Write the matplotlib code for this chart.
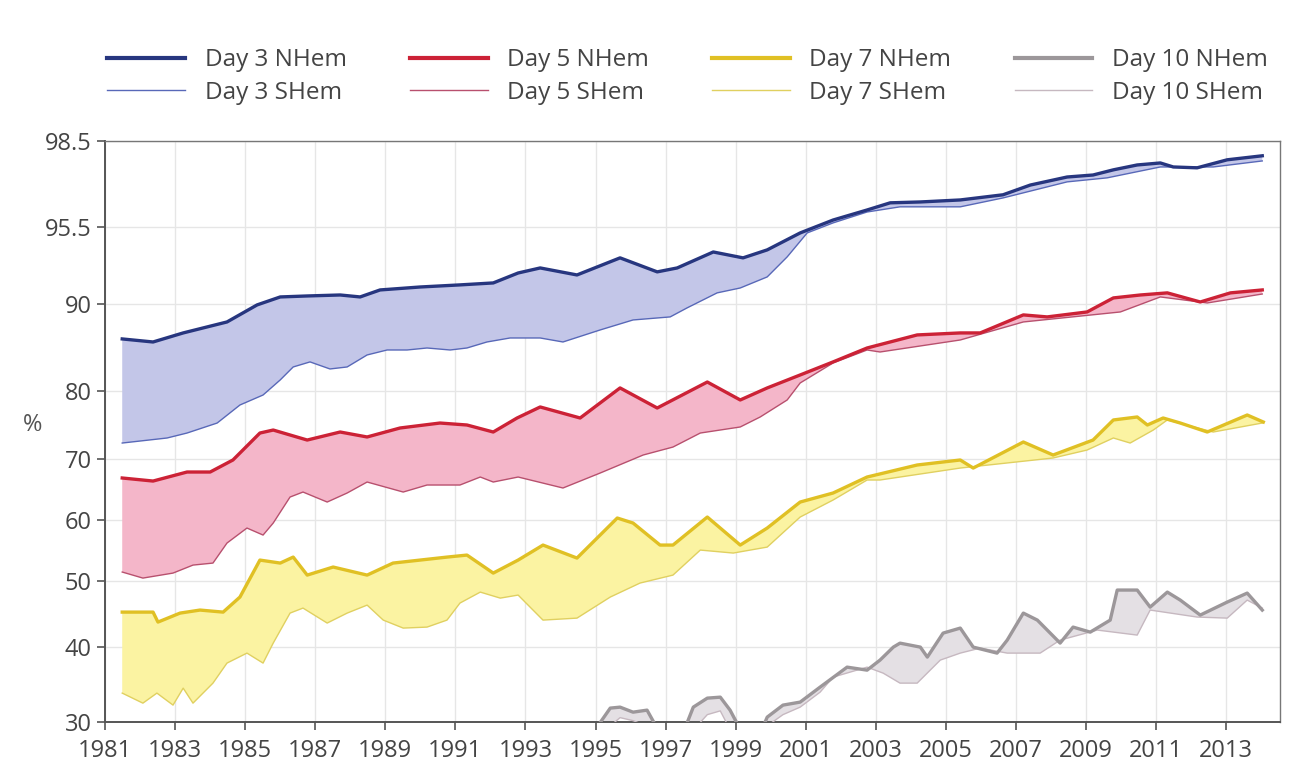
import numpy as np
import matplotlib
matplotlib.use("Agg")
import matplotlib.pyplot as plt
from matplotlib.lines import Line2D

plt.rcParams['font.family'] = ['Open Sans', 'DejaVu Sans']

# ---- data (year, anomaly correlation %) ----
d3n_x = [1981.49, 1982.37, 1983.23, 1984.48, 1985.34, 1986.0, 1986.77, 1987.71, 1988.28, 1988.85,
         1989.99, 1991.13, 1992.08, 1992.79, 1993.42, 1994.47, 1995.7, 1996.76, 1997.33, 1998.36,
         1999.21, 1999.9, 2000.84, 2001.78, 2002.75, 2003.41, 2004.27, 2005.41, 2006.63, 2007.41,
         2008.46, 2009.2, 2009.78, 2010.46, 2011.12, 2011.49, 2012.17, 2013.03, 2014.03]
d3n_y = [85.98, 85.63, 86.67, 87.93, 89.89, 90.5, 90.57, 90.64, 90.5, 91.0,
         91.21, 91.36, 91.5, 92.21, 92.57, 92.07, 93.29, 92.29, 92.57, 93.71,
         93.29, 93.86, 95.07, 95.74, 96.09, 96.34, 96.37, 96.44, 96.62, 96.96,
         97.24, 97.31, 97.49, 97.66, 97.73, 97.59, 97.56, 97.84, 97.98]

d3s_x = [1981.49, 1982.77, 1983.34, 1984.2, 1984.85, 1985.51, 1986.0, 1986.37, 1986.85, 1987.42,
         1987.91, 1988.48, 1989.05, 1989.62, 1990.19, 1990.85, 1991.33, 1991.9, 1992.56, 1993.42,
         1994.07, 1995.13, 1996.07, 1997.13, 1997.61, 1998.47, 1999.13, 1999.9, 2000.47, 2001.04,
         2001.78, 2002.75, 2003.69, 2005.41, 2006.63, 2008.46, 2009.6, 2011.12, 2012.63, 2014.03]
d3s_y = [72.35, 73.09, 73.82, 75.29, 77.94, 79.41, 81.27, 82.76, 83.34, 82.53,
         82.76, 84.14, 84.71, 84.71, 84.94, 84.71, 84.94, 85.63, 86.09, 86.09,
         85.63, 87.01, 88.16, 88.51, 89.54, 90.79, 91.14, 91.93, 93.36, 95.07,
         95.64, 96.02, 96.2, 96.2, 96.51, 97.07, 97.21, 97.59, 97.59, 97.8]

d5n_x = [1981.49, 1982.37, 1983.34, 1984.0, 1984.65, 1985.42, 1985.8, 1986.77, 1987.71, 1988.48,
         1989.42, 1990.56, 1991.33, 1992.08, 1992.76, 1993.42, 1994.56, 1995.7, 1996.76, 1998.19,
         1999.13, 1999.9, 2000.84, 2001.78, 2002.75, 2004.18, 2005.41, 2005.98, 2007.21, 2007.89,
         2009.03, 2009.78, 2010.55, 2011.32, 2012.26, 2013.12, 2014.03]
d5n_y = [66.89, 66.39, 67.87, 67.87, 69.84, 73.82, 74.26, 72.79, 73.97, 73.24,
         74.56, 75.29, 75.0, 73.97, 76.03, 77.65, 76.03, 80.35, 77.5, 81.03,
         78.68, 80.35, 81.84, 83.34, 84.94, 86.44, 86.67, 86.67, 88.74, 88.51,
         89.08, 90.43, 90.64, 90.79, 90.14, 90.79, 91.0]

d5s_x = [1981.49, 1982.08, 1982.94, 1983.51, 1984.08, 1984.48, 1985.05, 1985.51, 1985.8, 1986.28,
         1986.65, 1987.34, 1987.91, 1988.48, 1989.51, 1990.19, 1991.13, 1991.71, 1992.08, 1992.79,
         1994.07, 1995.13, 1996.36, 1997.21, 1997.99, 1999.13, 1999.7, 2000.47, 2000.84, 2001.78,
         2002.75, 2003.12, 2005.41, 2007.21, 2009.98, 2011.12, 2012.46, 2014.03]
d5s_y = [51.48, 50.49, 51.31, 52.62, 52.95, 56.23, 58.69, 57.54, 59.51, 63.77,
         64.59, 62.95, 64.43, 66.23, 64.59, 65.74, 65.74, 67.05, 66.23, 67.05,
         65.25, 67.7, 70.59, 71.76, 73.82, 74.71, 76.18, 78.68, 80.92, 83.22,
         84.71, 84.48, 85.86, 87.93, 89.08, 90.5, 90.07, 90.71]

d7n_x = [1981.49, 1982.37, 1982.51, 1983.14, 1983.71, 1984.37, 1984.85, 1985.42, 1986.0, 1986.37,
         1986.77, 1987.51, 1988.48, 1989.22, 1989.99, 1990.76, 1991.33, 1992.08, 1992.79, 1993.5,
         1994.47, 1995.62, 1996.07, 1996.84, 1997.21, 1998.19, 1999.13, 1999.9, 2000.84, 2001.78,
         2002.75, 2004.18, 2005.41, 2005.78, 2007.21, 2008.06, 2009.2, 2009.78, 2010.46, 2010.75,
         2011.2, 2011.69, 2012.46, 2013.6, 2014.06]
d7n_y = [45.3, 45.3, 43.79, 45.15, 45.61, 45.3, 47.58, 53.44, 52.95, 53.93,
         50.98, 52.3, 50.98, 52.95, 53.44, 53.93, 54.26, 51.31, 53.44, 55.9,
         53.77, 60.33, 59.51, 55.9, 55.9, 60.49, 55.9, 58.69, 62.95, 64.43,
         67.05, 69.02, 69.84, 68.52, 72.5, 70.59, 72.79, 75.74, 76.18, 75.0,
         76.03, 75.29, 73.97, 76.47, 75.44]

d7s_x = [1981.49, 1982.08, 1982.48, 1982.94, 1983.23, 1983.51, 1984.08, 1984.48, 1985.05, 1985.51,
         1985.8, 1986.28, 1986.65, 1987.34, 1987.91, 1988.48, 1988.94, 1989.51, 1990.19, 1990.76,
         1991.13, 1991.71, 1992.28, 1992.79, 1993.5, 1994.47, 1995.42, 1996.27, 1997.21, 1997.99,
         1998.93, 1999.9, 2000.84, 2001.78, 2002.75, 2003.12, 2005.41, 2008.06, 2009.03, 2009.78,
         2010.26, 2010.92, 2011.32, 2012.63, 2014.03]
d7s_y = [33.87, 32.53, 33.87, 32.27, 34.53, 32.53, 35.2, 37.87, 39.2, 37.87,
         40.61, 45.15, 45.91, 43.64, 45.15, 46.36, 44.09, 42.88, 43.03, 44.09,
         46.67, 48.33, 47.42, 47.88, 44.09, 44.39, 47.58, 49.7, 50.98, 55.08,
         54.59, 55.57, 60.49, 63.28, 66.56, 66.56, 68.52, 70.15, 71.32, 73.09,
         72.35, 74.26, 75.74, 73.97, 75.29]

d10n_x = [1994.5, 1994.99, 1995.42, 1995.7, 1996.07, 1996.47, 1996.84, 1997.41, 1997.79, 1998.19,
          1998.56, 1998.84, 1999.27, 1999.7, 1999.9, 2000.35, 2000.84, 2001.41, 2002.18, 2002.75,
          2003.12, 2003.5, 2003.69, 2004.27, 2004.47, 2004.92, 2005.41, 2005.78, 2006.46, 2006.75,
          2007.21, 2007.61, 2008.26, 2008.63, 2009.12, 2009.69, 2009.89, 2010.46, 2010.83, 2011.32,
          2011.69, 2012.26, 2013.03, 2013.6, 2014.03]
d10n_y = [27.5, 29.0, 31.87, 32.0, 31.33, 31.6, 28.5, 27.5, 32.0, 33.2,
          33.33, 31.6, 27.8, 28.5, 30.67, 32.27, 32.67, 34.67, 37.33, 36.93,
          38.27, 40.0, 40.6, 40.0, 38.67, 42.12, 42.88, 40.0, 39.2, 41.06,
          45.15, 44.09, 40.61, 43.03, 42.27, 44.09, 48.64, 48.64, 46.06, 48.33,
          47.12, 44.85, 46.82, 48.18, 45.61]

d10s_x = [1994.5, 1995.42, 1995.7, 1996.07, 1996.47, 1997.41, 1998.19, 1998.56, 1998.84, 1999.27,
          1999.9, 2000.35, 2000.84, 2001.41, 2001.78, 2002.75, 2003.21, 2003.69, 2004.18, 2004.84,
          2005.41, 2005.98, 2006.75, 2007.69, 2008.26, 2009.32, 2010.46, 2010.83, 2012.17, 2013.03,
          2013.6, 2014.03]
d10s_y = [27.0, 29.5, 30.6, 30.2, 29.5, 27.0, 31.0, 31.5, 29.0, 27.0,
          29.5, 31.0, 32.0, 34.0, 36.0, 37.33, 36.53, 35.2, 35.2, 38.27,
          39.2, 39.87, 39.2, 39.2, 41.06, 42.58, 41.82, 45.61, 44.55, 44.39,
          47.12, 45.91]

labels = ['Day 3 NHem', 'Day 3 SHem', 'Day 5 NHem', 'Day 5 SHem',
          'Day 7 NHem', 'Day 7 SHem', 'Day 10 NHem', 'Day 10 SHem']

# y-axis tick values and their relative spacing on the (non-linear) axis
y_ticks = [30, 40, 50, 60, 70, 80, 90, 95.5, 98.5]
y_tick_pos = np.array([0, 75, 141, 202, 263, 331, 418, 495, 581], float)
x_ticks = list(range(1981, 2014, 2))

vt = np.array(y_ticks, float)


def _extrap(v, a, b):
    v = np.asarray(v, float)
    out = np.interp(v, a, b)
    lo = v < a[0]
    hi = v > a[-1]
    out = np.where(lo, b[0] + (v - a[0]) * (b[1] - b[0]) / (a[1] - a[0]), out)
    out = np.where(hi, b[-1] + (v - a[-1]) * (b[-1] - b[-2]) / (a[-1] - a[-2]), out)
    return out


def fwd(v):
    return _extrap(v, vt, y_tick_pos)


def inv(p):
    return _extrap(p, y_tick_pos, vt)


fig = plt.figure(figsize=(12.97, 7.74), dpi=100)
ax = fig.add_axes([0.081, 0.067, 0.906, 0.751])
ax.set_yscale('function', functions=(fwd, inv))

styles = [
    # (nhem_x, nhem_y, shem_x, shem_y, nhem colour, shem colour, fill colour)
    (d3n_x, d3n_y, d3s_x, d3s_y, '#27367f', '#5868b8', '#c3c6e8'),
    (d5n_x, d5n_y, d5s_x, d5s_y, '#cc2236', '#b8506e', '#f4b6c9'),
    (d7n_x, d7n_y, d7s_x, d7s_y, '#e0c024', '#e0d060', '#fbf3a2'),
    (d10n_x, d10n_y, d10s_x, d10s_y, '#9c979a', '#c6b8c0', '#e4e0e4'),
]

handles = []
for nx, ny, sx, sy, cn, cs, cf in styles:
    px = np.r_[nx, sx[::-1]]
    py = np.r_[ny, sy[::-1]]
    ax.fill(px, py, color=cf, lw=0, zorder=2)
    ax.plot(sx, sy, color=cs, lw=1.0, zorder=3)
    ax.plot(nx, ny, color=cn, lw=2.4, zorder=4)
    handles.append(Line2D([], [], color=cn, lw=3.0))
    handles.append(Line2D([], [], color=cs, lw=1.0))

ax.set_xlim(1981, 2014.54)
ax.set_ylim(30, 98.5)
ax.set_xticks(x_ticks)
ax.set_yticks(y_ticks)
ax.set_yticklabels([('%g' % t) for t in y_ticks])
ax.set_xticklabels([str(t) for t in x_ticks])
ax.grid(True, color='#e6e6e6', lw=1.0, zorder=0)
ax.set_axisbelow(True)
ax.tick_params(axis='both', labelsize=17, colors='#555555', length=6,
               width=1.2, labelcolor='#444444')
ax.tick_params(axis='x', pad=6)
for s in ['left', 'bottom']:
    ax.spines[s].set_color('#555555')
    ax.spines[s].set_linewidth(1.4)
for s in ['top', 'right']:
    ax.spines[s].set_color('#777777')
    ax.spines[s].set_linewidth(1.0)

fig.text(0.018, 1 - 425 / 774, '%', fontsize=17, color='#555555',
         ha='left', va='center')

fig.legend(handles, labels, ncol=4, loc='upper left',
           bbox_to_anchor=(0.066, 0.966), frameon=False,
           fontsize=17.5, handlelength=3.2, handletextpad=0.8,
           columnspacing=2.6, labelspacing=0.36, labelcolor='#444444')

fig.savefig('out.png', dpi=100)
